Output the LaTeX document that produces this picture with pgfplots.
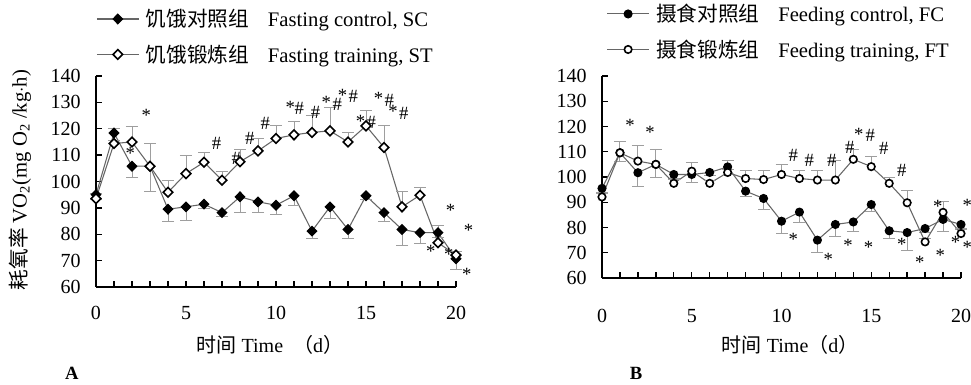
\documentclass[border=0pt]{standalone}
\usepackage{fontspec}
\setmainfont{Liberation Serif}
\newfontfamily\cjk{Noto Sans CJK SC}
\usepackage{pgfplots}
\pgfplotsset{compat=1.18}
\definecolor{ln}{gray}{0.4}
\definecolor{eb}{gray}{0.62}

\pgfplotstableread{
x y e
0 95 2
1 118.4 3
2 105.8 4.3
3 105.8 9.4
4 89.5 4.8
5 90.4 5
6 91.4 1.5
7 88.2 1.4
8 94.2 6
9 92.3 4
10 91 3.5
11 94.6 3.7
12 81.2 2.8
13 90.4 4.4
14 81.8 3.4
15 94.6 1.5
16 88.2 3.5
17 81.8 6.1
18 80.6 4.1
19 80.6 2
20 70.7 4
}\SC
\pgfplotstableread{
x y e
0 93.5 2
1 114.4 5.6
2 115 5.7
3 105.8 8.6
4 95.9 4.4
5 103 7
6 107.3 3.6
7 100.5 3.4
8 107.5 4.6
9 111.6 4.7
10 116.3 5
11 117.7 5.2
12 118.6 6.6
13 119.2 9
14 115 3.6
15 121.1 5.7
16 112.9 8.5
17 90.4 5.7
18 94.8 2.8
19 76.8 6.7
20 72.1 1.5
}\ST
\pgfplotstableread{
x y e
0 95.5 1.5
1 109.6 3.6
2 101.7 5.3
3 105 5
4 101 1.5
5 101 3.2
6 101.8 1
7 104 1
8 94.4 2.3
9 91.5 4.2
10 82.5 4.9
11 86.1 4.3
12 75 4.7
13 81.2 4.9
14 82.2 3.9
15 89.1 2.9
16 78.7 3.1
17 78 7
18 79.6 1.5
19 83.2 4.9
20 81.2 2
}\FC
\pgfplotstableread{
x y e
0 92.1 1.5
1 109.6 4.4
2 106.3 6.1
3 105 6
4 97.5 1.5
5 102.3 3.5
6 97.5 1
7 101.8 4.9
8 99.4 3.3
9 99 3.6
10 101 4
11 99.4 3.3
12 98.8 3.9
13 98.8 7.9
14 107 4
15 104.1 3.9
16 97.5 2.5
17 89.8 5
18 74.3 1.5
19 86 4.2
20 77.6 2
}\FT

\tikzset{an/.style={font=\fontsize{14}{16}\selectfont, inner sep=0pt}}
\pgfplotsset{
  myax/.style={
    scale only axis,
    axis x line*=bottom, axis y line*=left,
    xmin=0, xmax=20, ymin=60, ymax=140,
    xtick={0,5,...,20}, minor xtick={0,...,20},
    ytick={60,70,...,140},
    tick align=inside,
    major tick length=4.5pt, minor tick length=4.5pt,
    tick style={black, line width=1pt},
    axis line style={black, line width=1.2pt},
    clip=false,
    font=\fontsize{15}{17}\selectfont,
    xticklabel style={yshift=-11pt},
    yticklabel style={xshift=-8pt},
    /pgf/number format/assume math mode=true,
    legend style={draw=none, fill=none, font=\fontsize{15.5}{17}\selectfont, row sep=8pt, anchor=north west, legend cell align=left, inner sep=0pt},
    legend image code/.code={\draw[mark repeat=2,mark phase=2,##1] plot coordinates {(0pt,0pt)(15.75pt,0pt)(31.5pt,0pt)};},
  },
  ctrl/.style={color=ln, line width=0.8pt, mark=diamond*, mark size=3.6pt,
    mark options={solid, black, fill=black, xscale=1.33},
    error bars/.cd, y dir=minus, y explicit,
    error bar style={eb, line width=0.7pt},
    error mark options={rotate=90, eb, mark size=4.5pt, line width=0.7pt}},
  train/.style={color=ln, line width=0.8pt, mark=diamond*, mark size=3.6pt,
    mark options={solid, draw=black, fill=white, line width=1.2pt, xscale=1.33},
    error bars/.cd, y dir=plus, y explicit,
    error bar style={eb, line width=0.7pt},
    error mark options={rotate=90, eb, mark size=4.5pt, line width=0.7pt}},
  fctrl/.style={color=ln, line width=0.8pt, mark=*, mark size=3pt,
    mark options={solid, black, fill=black},
    error bars/.cd, y dir=minus, y explicit,
    error bar style={eb, line width=0.7pt},
    error mark options={rotate=90, eb, mark size=4.5pt, line width=0.7pt}},
  ftrain/.style={color=ln, line width=0.8pt, mark=*, mark size=2.8pt,
    mark options={solid, draw=black, fill=white, line width=1.2pt},
    error bars/.cd, y dir=plus, y explicit,
    error bar style={eb, line width=0.7pt},
    error mark options={rotate=90, eb, mark size=4.5pt, line width=0.7pt}},
}

\begin{document}
\begin{tikzpicture}[x=1pt,y=1pt]
\useasboundingbox (0,0) rectangle (728.25,288.75);
\begin{axis}[myax, at={(72pt,73.5pt)}, anchor=south west,
  width=270pt, height=158.25pt,
  xlabel={{\cjk 时间} Time\ \ {\cjk （}d{\cjk ）}},
  xlabel style={at={(axis description cs:0.483,-0.275)}, anchor=center},
  ylabel={{\cjk 耗氧率} VO\textsubscript{2}(mg O\textsubscript{2} /kg$\cdot$h)},
  ylabel style={at={(axis description cs:-0.211,0.507)}, anchor=center, font=\fontsize{15.5}{17}\selectfont},
  legend style={at={(0.0,1.33)}},
]
\addplot+[ctrl] table[x=x,y=y,y error=e] {\SC};
\addlegendentry{\hspace{3pt}{\cjk 饥饿对照组}\hspace{14pt}Fasting control, SC}
\addplot+[train] table[x=x,y=y,y error=e] {\ST};
\addlegendentry{\hspace{3pt}{\cjk 饥饿锻炼组}\hspace{14pt}Fasting training, ST}
\node[an] at (axis cs:2.8,125) {*};
\node[an] at (axis cs:1.9,110.5) {*};
\node[an] at (axis cs:6.7,114.5) {\#};
\node[an] at (axis cs:7.8,108.9) {\#};
\node[an] at (axis cs:8.55,116.4) {\#};
\node[an] at (axis cs:9.4,122.1) {\#};
\node[an] at (axis cs:10.8,128) {*};
\node[an] at (axis cs:11.3,127.8) {\#};
\node[an] at (axis cs:12.2,126.3) {\#};
\node[an] at (axis cs:12.8,130) {*};
\node[an] at (axis cs:13.4,129.3) {\#};
\node[an] at (axis cs:13.7,132.7) {*};
\node[an] at (axis cs:14.3,132.3) {\#};
\node[an] at (axis cs:15.7,131.5) {*};
\node[an] at (axis cs:16.3,130.8) {\#};
\node[an] at (axis cs:16.5,126.6) {*};
\node[an] at (axis cs:17.1,125.9) {\#};
\node[an] at (axis cs:14.7,122.8) {*};
\node[an] at (axis cs:15.3,122.5) {\#};
\node[an] at (axis cs:19.7,89.1) {*};
\node[an] at (axis cs:20.7,81.5) {*};
\node[an] at (axis cs:18.6,73.6) {*};
\node[an] at (axis cs:19.6,72.5) {*};
\node[an] at (axis cs:20.6,64.9) {*};
\node[font=\fontsize{14}{16}\selectfont\bfseries] at (rel axis cs:-0.067,-0.408) {A};
\end{axis}

\begin{axis}[myax, at={(451.5pt,80.25pt)}, anchor=south west,
  width=269.25pt, height=151.5pt,
  xlabel={{\cjk 时间} Time{\cjk （}d{\cjk ）}},
  xlabel style={at={(axis description cs:0.524,-0.332)}, anchor=center},
  xticklabel style={yshift=-9pt},
  legend style={at={(0.012,1.37)}},
]
\addplot+[fctrl] table[x=x,y=y,y error=e] {\FC};
\addlegendentry{\hspace{3pt}{\cjk 摄食对照组}\hspace{14pt}Feeding control, FC}
\addplot+[ftrain] table[x=x,y=y,y error=e] {\FT};
\addlegendentry{\hspace{3pt}{\cjk 摄食锻炼组}\hspace{14pt}Feeding training, FT}
\node[an] at (axis cs:1.56,120.6) {*};
\node[an] at (axis cs:2.68,117.8) {*};
\node[an] at (axis cs:10.65,108.7) {\#};
\node[an] at (axis cs:11.55,106.7) {\#};
\node[an] at (axis cs:12.8,106.7) {\#};
\node[an] at (axis cs:13.8,111.9) {\#};
\node[an] at (axis cs:14.3,117) {*};
\node[an] at (axis cs:14.95,116.6) {\#};
\node[an] at (axis cs:15.7,111.5) {\#};
\node[an] at (axis cs:16.7,102.7) {\#};
\node[an] at (axis cs:10.65,75.4) {*};
\node[an] at (axis cs:12.6,67.4) {*};
\node[an] at (axis cs:13.7,73) {*};
\node[an] at (axis cs:14.85,72.2) {*};
\node[an] at (axis cs:16.7,73.4) {*};
\node[an] at (axis cs:17.7,66.2) {*};
\node[an] at (axis cs:18.85,69) {*};
\node[an] at (axis cs:18.7,88.4) {*};
\node[an] at (axis cs:19.7,74.2) {*};
\node[an] at (axis cs:20.35,88.8) {*};
\node[an] at (axis cs:20.35,72.2) {*};
\node[font=\fontsize{14}{16}\selectfont\bfseries] at (rel axis cs:0.095,-0.47) {B};
\end{axis}
\end{tikzpicture}
\end{document}
